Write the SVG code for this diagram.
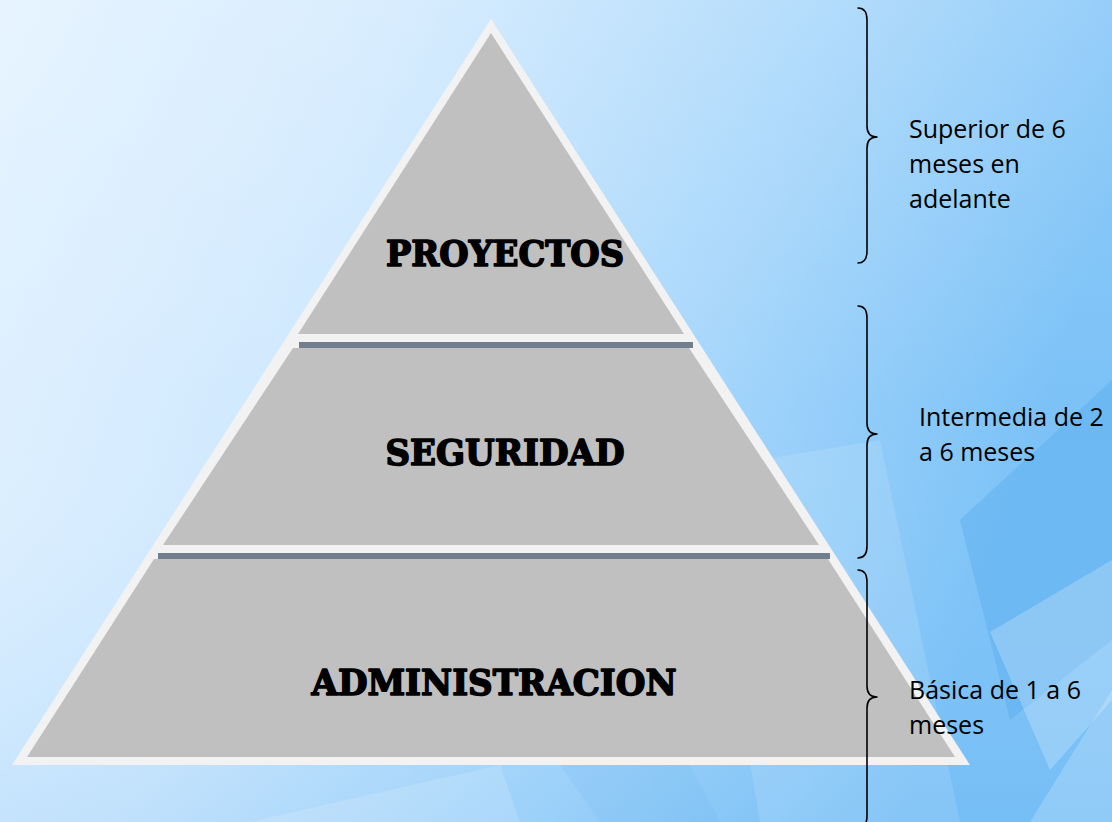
<svg xmlns="http://www.w3.org/2000/svg" width="1112" height="822" viewBox="0 0 1112 822">
  <defs>
    <linearGradient id="bg" x1="0" y1="0" x2="1" y2="0.25">
      <stop offset="0" stop-color="#e3f2ff"/>
      <stop offset="0.35" stop-color="#d0e9fe"/>
      <stop offset="0.7" stop-color="#a6d6fb"/>
      <stop offset="1" stop-color="#7cc2f7"/>
    </linearGradient>
    <linearGradient id="bgv" x1="0" y1="0" x2="0" y2="1">
      <stop offset="0" stop-color="#ffffff" stop-opacity="0.15"/>
      <stop offset="0.5" stop-color="#ffffff" stop-opacity="0"/>
      <stop offset="1" stop-color="#3fa0ea" stop-opacity="0.12"/>
    </linearGradient>
    <style>
      .frame { fill: #f2f2f2; }
      .tier { fill: #c0c0c0; }
      .shadow { fill: #717e8d; }
      .tier-label { font-family: "DejaVu Serif", "Liberation Serif", serif; font-weight: bold; font-size: 35px; fill: #000; stroke: #000; stroke-width: 1.6; stroke-linejoin: round; }
      .note { font-family: "Open Sans", "Noto Sans", sans-serif; font-size: 25px; fill: #000; }
      .brace { fill: none; stroke: #000; stroke-width: 1.6; stroke-linecap: round; stroke-linejoin: round; }
    </style>
  </defs>

  <!-- background -->
  <rect x="0" y="0" width="1112" height="822" fill="url(#bg)"/>
  <rect x="0" y="0" width="1112" height="822" fill="url(#bgv)"/>
  <polygon points="700,470 880,440 960,822 760,822" fill="#ffffff" opacity="0.12"/>
  <polygon points="960,520 1112,380 1112,640 1010,720" fill="#3a9de8" opacity="0.25"/>
  <polygon points="990,632 1112,560 1112,700 1050,770" fill="#ffffff" opacity="0.22"/>
  <polygon points="1030,822 1112,690 1112,822" fill="#ffffff" opacity="0.2"/>
  <polygon points="250,822 500,765 520,822" fill="#ffffff" opacity="0.15"/>
  <polygon points="560,765 690,765 720,822 600,822" fill="#3a9de8" opacity="0.08"/>

  <!-- pyramid -->
  <g id="pyramid-frame">
    <polygon class="frame" points="491,19 12,765 970,765"/>
  </g>

  <g id="tier-proyectos">
    <polygon class="tier" points="491,33 298,334 684,334"/>
    <text class="tier-label" x="505" y="266" text-anchor="middle" textLength="238" lengthAdjust="spacingAndGlyphs">PROYECTOS</text>
  </g>

  <g id="tier-seguridad">
    <rect class="shadow" x="299" y="342" width="394" height="6"/>
    <polygon class="tier" points="293,348 689,348 819,545 163,545"/>
    <text class="tier-label" x="505" y="465" text-anchor="middle" textLength="239" lengthAdjust="spacingAndGlyphs">SEGURIDAD</text>
  </g>

  <g id="tier-administracion">
    <rect class="shadow" x="158" y="553" width="672" height="6"/>
    <polygon class="tier" points="154,559 828,559 955,757 27,757"/>
    <text class="tier-label" x="494" y="695" text-anchor="middle" textLength="365" lengthAdjust="spacingAndGlyphs">ADMINISTRACION</text>
  </g>

  <!-- braces and notes -->
  <g id="connectors">
    <path class="brace" d="M858,8 Q867,8 867,20 L867,126 Q867,137 877,137 Q867,137 867,148 L867,251 Q867,263 858,263"/>
    <path class="brace" d="M858,306 Q867,306 867,318 L867,423 Q867,434 877,434 Q867,434 867,445 L867,546 Q867,558 858,558"/>
    <path class="brace" d="M858,570 Q867,570 867,582 L867,686 Q867,697 877,697 Q867,697 867,708 L867,816 Q867,828 858,828"/>
  </g>

  <g id="note-superior">
    <text class="note" x="909" y="138">Superior de 6</text>
    <text class="note" x="909" y="173">meses en</text>
    <text class="note" x="909" y="208">adelante</text>
  </g>
  <g id="note-intermedia">
    <text class="note" x="919" y="426">Intermedia de 2</text>
    <text class="note" x="919" y="461">a 6 meses</text>
  </g>
  <g id="note-basica">
    <text class="note" x="909" y="699">Básica de 1 a 6</text>
    <text class="note" x="909" y="734">meses</text>
  </g>
</svg>
